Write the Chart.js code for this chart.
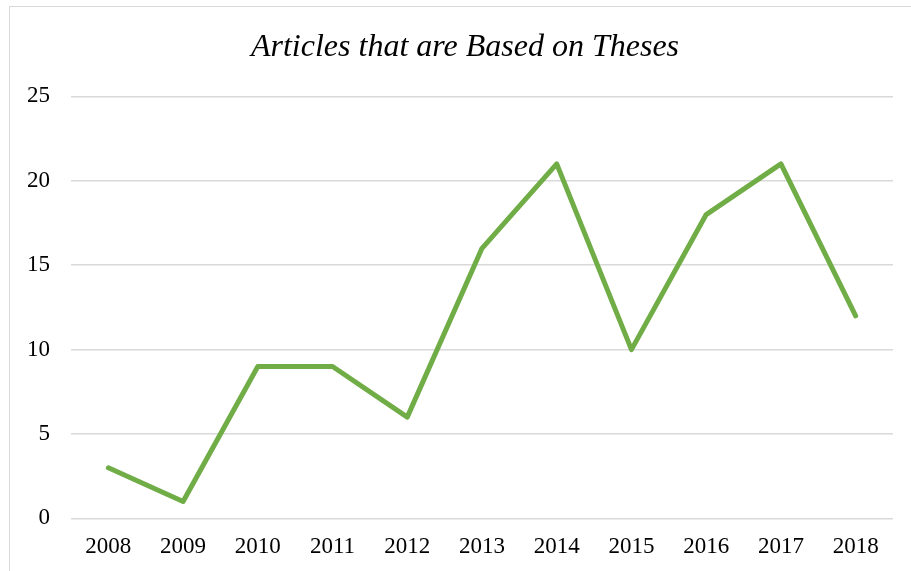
<!DOCTYPE html>
<html>
<head>
<meta charset="utf-8">
<script src="https://cdn.jsdelivr.net/npm/chart.js@4/dist/chart.umd.min.js"></script>
<style>
  html, body { margin: 0; padding: 0; background: #fff; overflow: hidden; }
  #frame {
    position: absolute; left: 9px; top: 6px;
    width: 902px; height: 565px;
    border-left: 1px solid #d9d9d9; border-top: 1px solid #d9d9d9;
  }
  #chart { display: block; }
</style>
</head>
<body>
<div id="frame"><canvas id="chart" width="902" height="565"></canvas></div>
<script>
// data
var years = ['2008', '2009', '2010', '2011', '2012', '2013', '2014', '2015', '2016', '2017', '2018'];
var articles = [3, 1, 9, 9, 6, 16, 21, 10, 18, 21, 12];

var serif = '"Liberation Serif", "Times New Roman", serif';

var ctx = document.getElementById('chart').getContext('2d');
var chart = new Chart(ctx, {
    type: 'line',
    data: {
        labels: years,
        datasets: [{
            label: 'Articles',
            data: articles,
            borderColor: '#70ad47',
            borderWidth: 5,
            borderCapStyle: 'round',
            borderJoinStyle: 'round',
            pointRadius: 0,
            fill: false,
            tension: 0
        }]
    },
    options: {
        responsive: false,
        animation: false,
        layout: { padding: { left: 8, right: 0, top: 0, bottom: 4 } },
        plugins: {
            legend: { display: false },
            tooltip: { enabled: false },
            title: {
                display: true,
                text: 'Articles that are Based on Theses',
                color: '#000',
                font: { family: serif, size: 32, style: 'italic', weight: 'normal' },
                padding: { top: 21, bottom: 30 }
            }
        },
        scales: {
            x: {
                offset: true,
                grid: { display: false },
                border: { display: false },
                ticks: {
                    color: '#000',
                    padding: 7,
                    maxRotation: 0,
                    font: { family: serif, size: 23 }
                }
            },
            y: {
                min: 0,
                max: 25,
                afterFit: function(axis) { axis.width = 53; },
                grid: { color: '#d9d9d9', lineWidth: 1.5, drawTicks: false },
                border: { display: false },
                ticks: {
                    stepSize: 5,
                    color: '#000',
                    padding: 21,
                    font: { family: serif, size: 23 }
                }
            },
            // empty right-hand axis, only keeps the gap at the right of the plot
            spacer: {
                position: 'right',
                grid: { display: false },
                border: { display: false },
                ticks: { display: false },
                afterFit: function(axis) { axis.width = 19; }
            }
        }
    }
});
</script>
</body>
</html>
